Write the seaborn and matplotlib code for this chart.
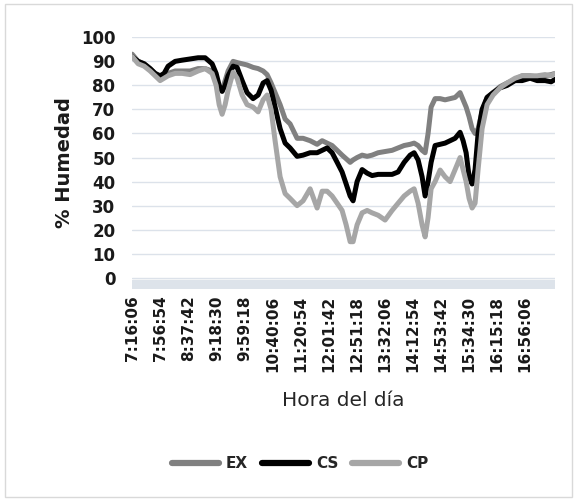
import pandas as pd
import seaborn as sns
import matplotlib.pyplot as plt
from matplotlib.patches import Rectangle

# sampled readings (time of day, % humidity)
hora = ["7:16:06", "7:24:49", "7:33:32", "7:42:16", "7:49:32", "7:56:48", "8:02:36", "8:08:24",
        "8:18:36", "8:28:48", "8:40:24", "8:52:00", "9:02:12", "9:12:24", "9:18:12", "9:22:36",
        "9:26:54", "9:31:18", "9:35:36", "9:42:54", "9:48:42", "9:56:00", "10:03:12", "10:11:54",
        "10:19:12", "10:26:30", "10:32:18", "10:38:06", "10:43:54", "10:51:12", "10:58:30", "11:05:42",
        "11:15:54", "11:24:36", "11:34:48", "11:45:00", "11:52:18", "11:59:30", "12:06:48", "12:14:06",
        "12:21:18", "12:27:12", "12:33:00", "12:37:18", "12:43:06", "12:50:24", "12:57:42", "13:04:54",
        "13:13:42", "13:23:48", "13:34:00", "13:42:42", "13:51:30", "14:00:12", "14:06:00", "14:11:48",
        "14:17:36", "14:22:00", "14:26:18", "14:30:42", "14:36:30", "14:43:48", "14:51:00", "14:58:18",
        "15:05:36", "15:12:48", "15:17:12", "15:21:36", "15:25:54", "15:30:18", "15:34:36", "15:39:00",
        "15:44:48", "15:52:06", "16:00:48", "16:11:00", "16:21:12", "16:32:48", "16:43:00", "16:54:36",
        "17:04:48", "17:16:24", "17:25:06", "17:30:54"]

ex = [93, 90, 89, 87, 85, 83, 84, 85, 86, 86, 86, 87, 87, 86, 82, 79,
      78, 82, 86, 90, 89.5, 89, 88.5, 87.5, 87, 86, 84.5, 81, 77, 72, 66, 64,
      58, 58, 57, 55.5, 57, 56, 55, 53, 51, 49.5, 48, 49, 50, 51, 50.5, 51,
      52, 52.5, 53, 54, 55, 55.5, 56, 55, 53, 52, 60, 71, 74.5, 74.5, 74, 74.5,
      75, 77, 74, 71, 67, 62, 60, 62, 69, 75, 77, 79.5, 81, 82.5, 84, 84,
      83.5, 84, 84.5, 85]

cs = [92, 90, 89, 87, 85, 84, 85, 88, 90, 90.5, 91, 91.5, 91.5, 89, 85, 80,
      77.5, 80, 84, 88, 87.5, 82, 77, 74.5, 76, 81, 82, 78, 71, 62, 56, 54,
      50.5, 51, 52, 52, 53, 54, 52, 48, 44, 39, 34, 32, 40, 45, 43.5, 42.5,
      43, 43, 43, 44, 48, 51, 52, 49, 42, 34, 40, 48, 55, 55.5, 56, 57,
      58, 60.5, 57, 52, 42, 39, 45, 60, 70, 75, 77, 79, 80, 82, 82, 83,
      82, 82, 81.5, 82.5]

cp = [92, 89, 88, 86, 84, 82, 83, 84, 85, 85, 84.5, 86, 87, 85, 80, 72,
      68, 72, 78, 85.5, 83, 76, 72, 71, 69, 74, 76, 70, 57, 42, 35, 33,
      30, 32, 37, 29, 36, 36, 34, 31, 28, 22, 15, 15, 22, 27, 28, 27,
      26, 24, 28, 31, 34, 36, 37, 31, 22, 17, 25, 37, 40, 44.8, 42, 40,
      45, 50, 45, 40, 33, 29, 31, 45, 62, 72, 76, 79, 81, 83, 84, 84,
      84, 84.5, 84, 85]

series = ["EX", "CS", "CP"]
colores = ["#808080", "#000000", "#a6a6a6"]

tick_labels = ["7:16:06", "7:56:54", "8:37:42", "9:18:30", "9:59:18", "10:40:06", "11:20:54",
               "12:01:42", "12:51:18", "13:32:06", "14:12:54", "14:53:42", "15:34:30",
               "16:15:18", "16:56:06"]

segundos = pd.to_timedelta(hora).total_seconds()
df = pd.DataFrame({"t": segundos, "EX": ex, "CS": cs, "CP": cp})
df = df.melt(id_vars="t", var_name="serie", value_name="humedad")

sns.set_style("white")
plt.rcParams["font.family"] = ["DejaVu Sans"]

fig = plt.figure(figsize=(5.77, 5.01), dpi=100)
ax = fig.add_axes([0.229, 0.424, 0.733, 0.5015])

sns.lineplot(data=df, x="t", y="humedad", hue="serie", hue_order=series,
             palette=colores, linewidth=3.6, ax=ax, legend=False)

# ticks every 40:48 starting at 7:16:06
t0 = pd.to_timedelta("7:16:06").total_seconds()
paso = pd.to_timedelta("0:40:48").total_seconds()
ticks = [t0 + i * paso for i in range(len(tick_labels))]

ax.set_xlim(t0, segundos[-1])
ax.set_ylim(-4.5, 100)
ax.set_yticks(range(0, 101, 10))
ax.set_xticks(ticks)
ax.set_xticklabels(tick_labels, rotation=90, fontsize=11, fontweight="bold", color="#1a1a1a")
ax.set_yticklabels([str(v) for v in range(0, 101, 10)], fontsize=12, fontweight="bold", color="#1a1a1a")
ax.tick_params(axis="y", length=0, pad=12)
ax.tick_params(axis="x", length=0, pad=5)
ax.grid(axis="y", color="#dce2ea", linewidth=1)
ax.axhspan(-4.4, -0.9, color="#dde3ea", zorder=0)
for s in ax.spines.values():
    s.set_visible(False)

ax.set_xlabel("Hora del día", fontsize=14.5, color="#262626", labelpad=14)
ax.set_ylabel("% Humedad", fontsize=14, fontweight="bold", color="#1a1a1a", labelpad=5)

handles = [plt.Line2D([], [], color=c, linewidth=4.5) for c in colores]
fig.legend(handles, series, loc="center", bbox_to_anchor=(0.52, 0.074), ncol=3,
           frameon=False, handlelength=3.1, handletextpad=0.45, columnspacing=0.9,
           prop={"weight": "bold", "size": 11})

fig.patches.append(Rectangle((0.008, 0.008), 0.984, 0.984, transform=fig.transFigure,
                             fill=False, edgecolor="#d9d9d9", linewidth=1))

fig.savefig("out.png", dpi=100)
